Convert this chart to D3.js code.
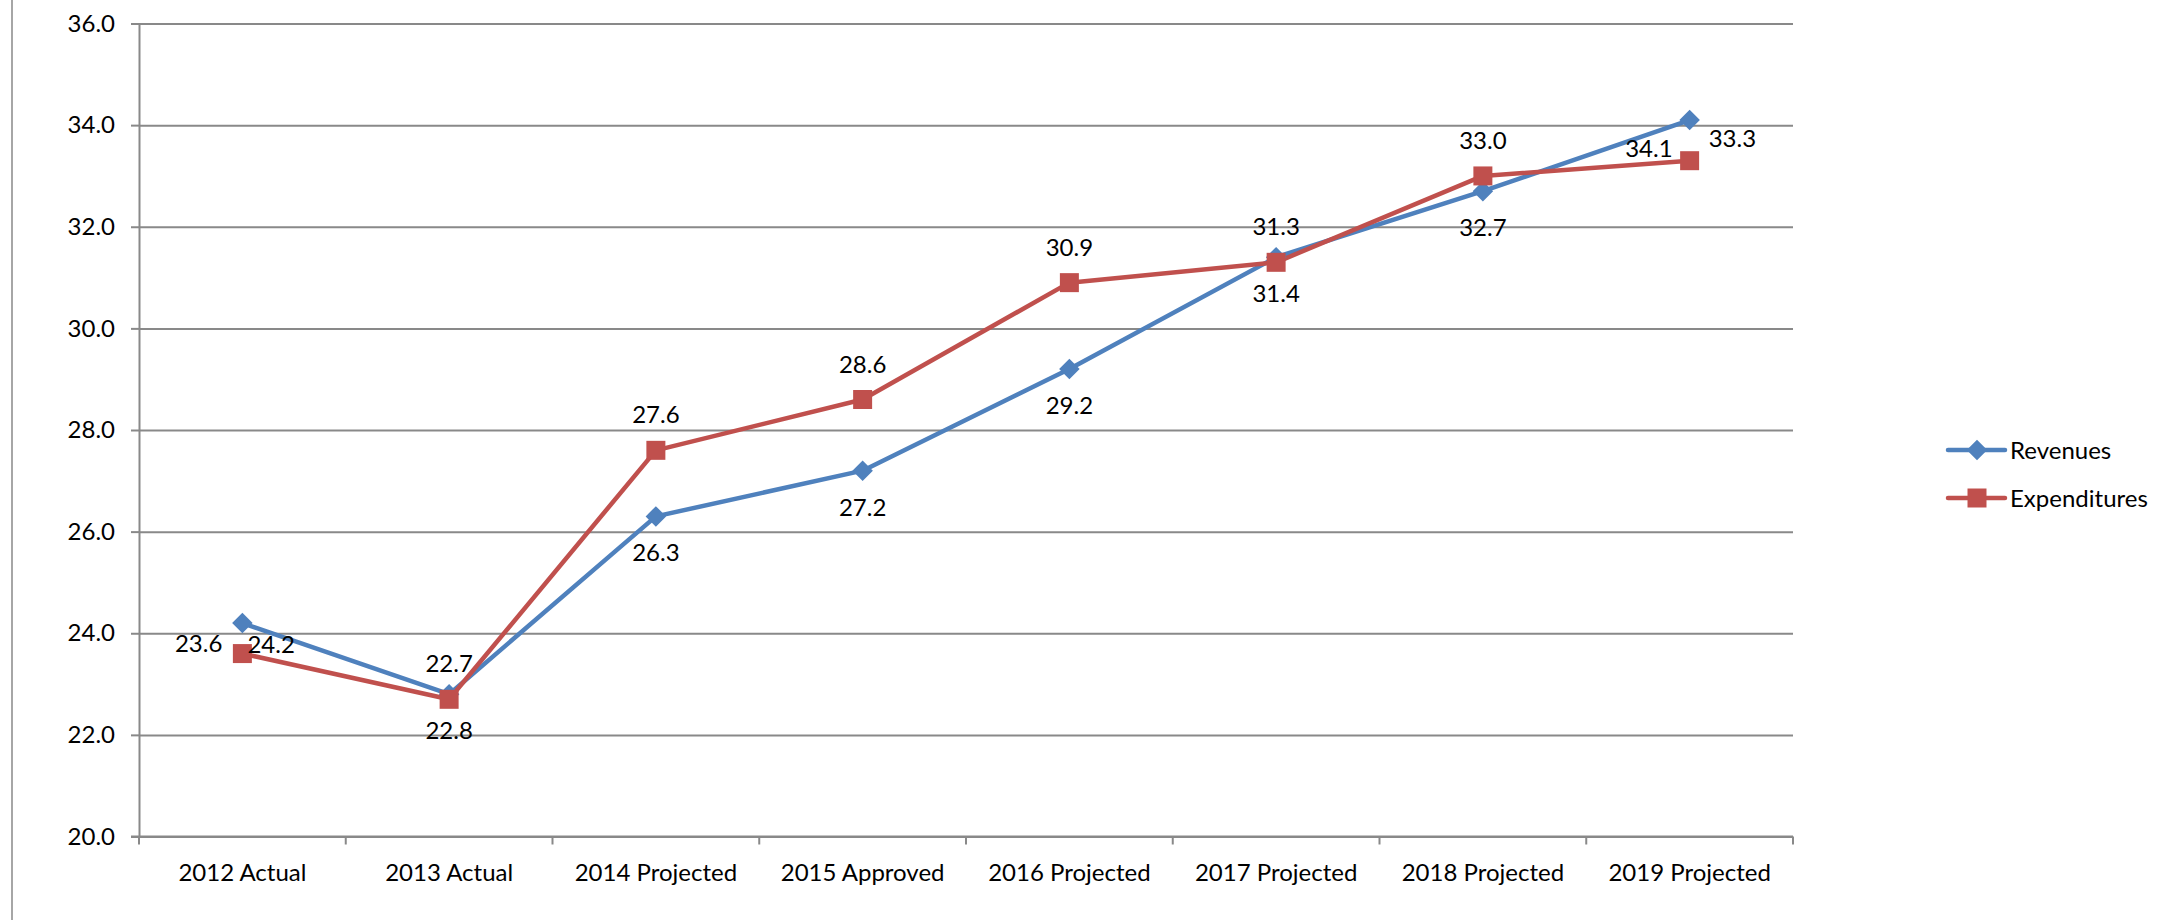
<!DOCTYPE html>
<html>
<head>
<meta charset="utf-8">
<script src="https://cdn.jsdelivr.net/npm/d3@7/dist/d3.min.js"></script>
<style>
  html, body { margin: 0; padding: 0; background: #fff; }
  svg { display: block; font-family: Lato, "Liberation Sans", sans-serif; }
</style>
</head>
<body>
<svg id="chart" width="2168" height="920"></svg>
<script>
// Budget outlook: revenues vs expenditures
const categories = ["2012 Actual", "2013 Actual", "2014 Projected", "2015 Approved",
                    "2016 Projected", "2017 Projected", "2018 Projected", "2019 Projected"];
const revenues     = [24.2, 22.8, 26.3, 27.2, 29.2, 31.4, 32.7, 34.1];
const expenditures = [23.6, 22.7, 27.6, 28.6, 30.9, 31.3, 33.0, 33.3];
const yTicks = [20, 22, 24, 26, 28, 30, 32, 34, 36];
const seriesNames = ["Revenues", "Expenditures"];

// Data-label placement per point: [dx, dy, anchor]
const revLabelPlace = [[5, 30, "start"], [0, 45, "middle"], [0, 45, "middle"], [0, 45, "middle"],
                       [0, 45, "middle"], [0, 45, "middle"], [0, 45, "middle"], [-17, 37, "end"]];
const expLabelPlace = [[-20, -2, "end"], [0, -27, "middle"], [0, -27, "middle"], [0, -27, "middle"],
                       [0, -27, "middle"], [0, -27, "middle"], [0, -27, "middle"], [19, -14, "start"]];

const colors = { rev: "#4F81BD", exp: "#C0504D", grid: "#898989", text: "#000" };
const plot = { left: 139, right: 1793, top: 23.5, bottom: 836.5 };

const svg = d3.select("#chart");

// outer frame edge on the left
svg.append("line")
  .attr("x1", 12).attr("x2", 12).attr("y1", 0).attr("y2", 920)
  .attr("stroke", "#a6a6a6").attr("stroke-width", 2);

const x = d3.scaleBand().domain(categories).range([plot.left, plot.right]).padding(0);
const y = d3.scaleLinear().domain([20, 36]).range([plot.bottom, plot.top]);
const cx = c => x(c) + x.bandwidth() / 2;

// horizontal gridlines + y tick labels
const yAxis = svg.append("g")
  .attr("transform", `translate(${plot.left},0)`)
  .call(d3.axisLeft(y).tickValues(yTicks).tickFormat(d3.format(".1f"))
        .tickSizeInner(-(plot.right - plot.left)).tickSizeOuter(0).tickPadding(24));
yAxis.select(".domain").remove();
yAxis.selectAll(".tick line").attr("stroke", colors.grid).attr("stroke-width", 2);
yAxis.selectAll(".tick text")
  .attr("fill", colors.text).style("font-size", "24px").style("font-family", "Lato, sans-serif");

// short outside ticks on the value axis
const yTickMarks = svg.append("g")
  .attr("transform", `translate(${plot.left},0)`)
  .call(d3.axisLeft(y).tickValues(yTicks).tickFormat("").tickSizeInner(8).tickSizeOuter(0));
yTickMarks.select(".domain").attr("stroke", colors.grid).attr("stroke-width", 2);
yTickMarks.selectAll(".tick line").attr("stroke", colors.grid).attr("stroke-width", 2);

// category axis: ticks at band boundaries, labels at band centres
const boundaries = categories.map(c => x(c)).concat([plot.right]);
const xAxis = svg.append("g").attr("transform", `translate(0,${plot.bottom})`);
xAxis.append("line")
  .attr("x1", plot.left - 8).attr("x2", plot.right).attr("y1", 0).attr("y2", 0)
  .attr("stroke", colors.grid).attr("stroke-width", 2);
xAxis.selectAll("line.tk").data(boundaries).join("line").attr("class", "tk")
  .attr("x1", d => d).attr("x2", d => d).attr("y1", 0).attr("y2", 8)
  .attr("stroke", colors.grid).attr("stroke-width", 2);
xAxis.selectAll("text").data(categories).join("text")
  .attr("x", d => cx(d)).attr("y", 44)
  .attr("text-anchor", "middle").attr("fill", colors.text)
  .style("font-size", "24px").text(d => d);

// series
const series = [
  { key: "rev", name: seriesNames[0], values: revenues, color: colors.rev, marker: "diamond", place: revLabelPlace },
  { key: "exp", name: seriesNames[1], values: expenditures, color: colors.exp, marker: "square", place: expLabelPlace }
];

const line = d3.line().x((d, i) => cx(categories[i])).y(d => y(d));

function drawMarker(g, kind, color) {
  if (kind === "diamond") {
    g.append("path")
      .attr("d", d3.symbol(d3.symbolSquare, 210)())
      .attr("transform", "rotate(45)")
      .attr("fill", color);
  } else {
    g.append("path")
      .attr("d", d3.symbol(d3.symbolSquare, 361)())
      .attr("fill", color);
  }
}

series.forEach(s => {
  svg.append("path")
    .datum(s.values)
    .attr("d", line)
    .attr("fill", "none")
    .attr("stroke", s.color)
    .attr("stroke-width", 4.5)
    .attr("stroke-linejoin", "round");
});

series.forEach(s => {
  s.values.forEach((v, i) => {
    const g = svg.append("g").attr("transform", `translate(${cx(categories[i])},${y(v)})`);
    drawMarker(g, s.marker, s.color);
  });
});

// data labels
series.forEach(s => {
  svg.append("g").selectAll("text").data(s.values).join("text")
    .attr("x", (d, i) => cx(categories[i]) + s.place[i][0])
    .attr("y", (d, i) => y(d) + s.place[i][1])
    .attr("text-anchor", (d, i) => s.place[i][2])
    .attr("fill", colors.text)
    .style("font-size", "24px")
    .text(d => d3.format(".1f")(d));
});

// legend
const legend = svg.append("g");
const legendY = [450, 498];
series.forEach((s, i) => {
  const g = legend.append("g").attr("transform", `translate(0,${legendY[i]})`);
  g.append("line").attr("x1", 1948).attr("x2", 2005).attr("y1", 0).attr("y2", 0)
    .attr("stroke", s.color).attr("stroke-width", 4.5).attr("stroke-linecap", "round");
  const m = g.append("g").attr("transform", "translate(1977,0)");
  drawMarker(m, s.marker, s.color);
  g.append("text").attr("x", 2010).attr("y", 8.5)
    .attr("fill", colors.text).style("font-size", "24px").text(s.name);
});
</script>
</body>
</html>
